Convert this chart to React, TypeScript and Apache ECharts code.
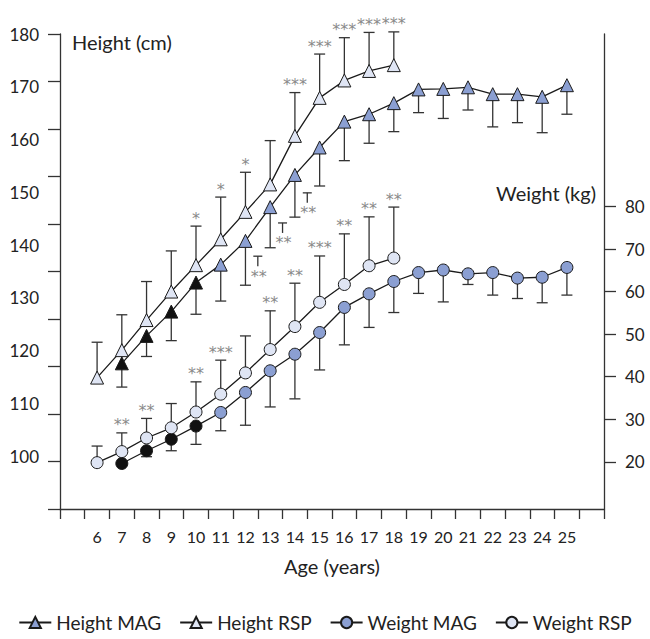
import React, { useEffect, useRef } from "react";
import * as echarts from "echarts";

// ---------- data ----------
const ageLabels = ["6", "7", "8", "9", "10", "11", "12", "13", "14", "15", "16", "17", "18", "19", "20", "21", "22", "23", "24", "25"];
const xCategories = ["", ...ageLabels, ""];

const heightTickLabels = [100, 110, 120, 130, 140, 150, 160, 170, 180];
const weightTickLabels = [20, 30, 40, 50, 60, 70, 80];

const rspAges = [6, 7, 8, 9, 10, 11, 12, 13, 14, 15, 16, 17, 18];
const magAges = [7, 8, 9, 10, 11, 12, 13, 14, 15, 16, 17, 18, 19, 20, 21, 22, 23, 24, 25];
const magJuvenileAges = [7, 8, 9, 10];

const heightRsp = [114.9, 120.1, 125.8, 131.2, 136.2, 141.1, 146.3, 151.5, 160.7, 167.9, 171.2, 173.0, 174.1];
const heightRspUpper = [121.6, 126.8, 133.1, 138.9, 143.6, 149.1, 153.8, 159.8, 168.9, 176.2, 179.3, 180.3, 180.4];
const heightRspStars = ["", "", "", "", "*", "*", "*", "", "***", "***", "***", "***", "***"];

const heightMag = [117.6, 122.8, 127.4, 132.9, 136.3, 140.8, 147.2, 153.3, 158.5, 163.4, 164.8, 166.9, 169.5, 169.6, 169.9, 168.6, 168.6, 168.1, 170.3];
const heightMagLower = [113.1, 118.9, 121.9, 126.9, 129.4, 132.4, 139.5, 145.3, 151.2, 156.0, 159.3, 161.5, 165.1, 164.0, 165.6, 162.4, 163.2, 161.3, 164.8];

const weightRsp = [19.8, 22.4, 25.6, 28.0, 31.7, 35.9, 40.9, 46.4, 51.8, 57.5, 61.7, 66.1, 67.9];
const weightRspUpper = [23.7, 26.8, 30.2, 33.7, 38.8, 43.9, 49.6, 55.5, 62.0, 68.4, 73.6, 77.6, 79.9];
const weightRspStars = ["", "**", "**", "", "**", "***", "", "**", "**", "***", "**", "**", "**"];

const weightMag = [19.6, 22.6, 25.3, 28.4, 31.6, 36.3, 41.4, 45.3, 50.4, 56.3, 59.5, 62.4, 64.5, 65.1, 64.2, 64.5, 63.2, 63.4, 65.7];
const weightMagLower = [19.6, 21.2, 22.6, 24.1, 27.3, 28.6, 32.9, 34.8, 41.6, 47.5, 51.6, 55.1, 59.6, 57.6, 61.7, 59.2, 58.4, 57.4, 59.2];

// significance marks placed between ages (after the given age), on the height scale
const betweenAges = [12, 13, 14];
const betweenHeights = [137.9, 144.2, 149.9];
const betweenStars = ["**", "**", "**"];

// ---------- styling ----------
const FONT = "Lato, 'Open Sans', sans-serif";
const TEXT = "#222";
const AXIS = "#333";
const MAG_FILL = "#8b9fd2";
const RSP_FILL = "#dfe5f4";
const JUV_FILL = "#111";
const STAR_FONT = "16px 'DejaVu Sans'";
const STAR_FILL = "#8a8a8a";

const idx = (age: number) => xCategories.indexOf(String(age));

function errorBars(name: string, ages: number[], values: number[], bounds: number[], yAxisIndex: number) {
  return {
    type: "custom",
    name,
    yAxisIndex,
    z: 1,
    silent: true,
    clip: false,
    encode: { x: 0, y: [1, 2] },
    data: ages.map((a, i) => [idx(a), values[i], bounds[i]]),
    renderItem: (_p: any, api: any) => {
      const p = api.coord([api.value(0), api.value(1)]);
      const q = api.coord([api.value(0), api.value(2)]);
      const st = { stroke: AXIS, lineWidth: 1.3 };
      return {
        type: "group",
        children: [
          { type: "line", shape: { x1: p[0], y1: p[1], x2: q[0], y2: q[1] }, style: st },
          { type: "line", shape: { x1: q[0] - 5.5, y1: q[1], x2: q[0] + 5.5, y2: q[1] }, style: st },
        ],
      };
    },
  };
}

function starMarks(name: string, ages: number[], bounds: number[], stars: string[], yAxisIndex: number) {
  const keep = ages.map((_, i) => i).filter((i) => stars[i]);
  const txt = keep.map((i) => stars[i]);
  return {
    type: "custom",
    name,
    yAxisIndex,
    z: 5,
    silent: true,
    clip: false,
    encode: { x: 0, y: 1 },
    data: keep.map((i) => [idx(ages[i]), bounds[i]]),
    renderItem: (params: any, api: any) => {
      const q = api.coord([api.value(0), api.value(1)]);
      return {
        type: "text",
        x: q[0],
        y: q[1] - 8,
        style: {
          text: txt[params.dataIndex],
          font: STAR_FONT,
          fill: STAR_FILL,
          align: "center",
          verticalAlign: "middle",
        },
      };
    },
  };
}

function lineSeries(name: string, ages: number[], values: number[], yAxisIndex: number, symbol: string, size: number, fill: string, juvenile: boolean) {
  return {
    type: "line",
    name,
    yAxisIndex,
    z: 3,
    symbol,
    symbolSize: size,
    showAllSymbol: true,
    clip: false,
    lineStyle: { color: "#1a1a1a", width: 1.3 },
    itemStyle: { color: fill, borderColor: "#1a1a1a", borderWidth: 1 },
    emphasis: { disabled: true },
    data: ages.map((a, i) => {
      const d: any = { value: [idx(a), values[i]] };
      if (juvenile && magJuvenileAges.includes(a)) d.itemStyle = { color: JUV_FILL };
      return d;
    }),
  };
}

export default function App() {
  const ref = useRef<HTMLDivElement>(null);
  useEffect(() => {
    if (!ref.current) return;
    const chart = echarts.init(ref.current, undefined, { renderer: "svg" });
    const option: any = {
      animation: false,
      textStyle: { fontFamily: FONT },
      grid: { left: 60, right: 46, top: 34, bottom: 130, containLabel: false },
      legend: {
        data: ["Height MAG", "Height RSP", "Weight MAG", "Weight RSP"],
        left: "center",
        top: 613,
        width: 650,
        padding: 0,
        itemWidth: 32,
        itemHeight: 14,
        itemGap: 18,
        textStyle: { fontSize: 19, color: TEXT, fontFamily: FONT },
      },
      xAxis: {
        type: "category",
        data: xCategories,
        boundaryGap: true,
        axisLine: { lineStyle: { color: AXIS, width: 1.3 } },
        axisTick: { show: true, length: 10, alignWithLabel: false, interval: 0, lineStyle: { color: AXIS, width: 1.3 } },
        axisLabel: { interval: 0, margin: 19, fontSize: 16, color: TEXT, fontFamily: FONT },
        name: "Age (years)",
        nameLocation: "middle",
        nameGap: 47,
        nameTextStyle: { fontSize: 20, color: TEXT, fontFamily: FONT },
        splitLine: { show: false },
      },
      yAxis: [
        {
          type: "value",
          position: "left",
          min: 90,
          max: 180,
          interval: 10,
          axisLine: { show: true, lineStyle: { color: AXIS, width: 1.3 } },
          axisTick: { show: false },
          axisLabel: {
            margin: 21,
            fontSize: 17,
            color: TEXT,
            fontFamily: FONT,
            formatter: (v: number) => (heightTickLabels.includes(v) ? String(v) : ""),
          },
          splitLine: { show: false },
          name: "Height (cm)",
          nameLocation: "end",
          nameGap: -8,
          nameTextStyle: { fontSize: 20, color: TEXT, fontFamily: FONT, align: "left", verticalAlign: "middle", padding: [0, 0, 0, 12] },
        },
        {
          type: "value",
          position: "left",
          min: 0,
          max: 10,
          interval: 1,
          axisLine: { show: false },
          axisTick: { show: true, length: 12, lineStyle: { color: AXIS, width: 1.3 } },
          axisLabel: { show: false },
          splitLine: { show: false },
        },
        {
          type: "value",
          position: "right",
          min: 8.9,
          max: 120.6,
          axisLine: { show: true, lineStyle: { color: AXIS, width: 1.3 } },
          axisTick: { show: true, length: 12, customValues: weightTickLabels, lineStyle: { color: AXIS, width: 1.3 } },
          axisLabel: { margin: 21, fontSize: 17, color: TEXT, fontFamily: FONT, customValues: weightTickLabels },
          splitLine: { show: false },
          name: "Weight (kg)",
          nameLocation: "end",
          nameGap: -159,
          nameTextStyle: { fontSize: 20, color: TEXT, fontFamily: FONT, align: "right", verticalAlign: "middle", padding: [0, 8, 0, 0] },
        },
      ],
      series: [
        errorBars("hmErr", magAges, heightMag, heightMagLower, 0),
        errorBars("hrErr", rspAges, heightRsp, heightRspUpper, 0),
        errorBars("wmErr", magAges, weightMag, weightMagLower, 2),
        errorBars("wrErr", rspAges, weightRsp, weightRspUpper, 2),
        lineSeries("Height MAG", magAges, heightMag, 0, "triangle", 13, MAG_FILL, true),
        lineSeries("Height RSP", rspAges, heightRsp, 0, "triangle", 13, RSP_FILL, false),
        lineSeries("Weight MAG", magAges, weightMag, 2, "circle", 12, MAG_FILL, true),
        lineSeries("Weight RSP", rspAges, weightRsp, 2, "circle", 12, RSP_FILL, false),
        starMarks("hrStars", rspAges, heightRspUpper, heightRspStars, 0),
        starMarks("wrStars", rspAges, weightRspUpper, weightRspStars, 2),
        {
          type: "custom",
          name: "betweenMarks",
          yAxisIndex: 0,
          z: 5,
          silent: true,
          clip: false,
          encode: { x: 0, y: 1 },
          data: betweenAges.map((a, i) => [idx(a), betweenHeights[i]]),
          renderItem: (params: any, api: any) => {
            const p = api.coord([api.value(0), api.value(1)]);
            const half = api.size([1, 0])[0] / 2;
            const x = p[0] + half;
            const st = { stroke: AXIS, lineWidth: 1.3 };
            return {
              type: "group",
              children: [
                { type: "line", shape: { x1: x - 4.5, y1: p[1], x2: x + 4.5, y2: p[1] }, style: st },
                { type: "line", shape: { x1: x, y1: p[1], x2: x, y2: p[1] + 10 }, style: st },
                {
                  type: "text",
                  x: x + 1,
                  y: p[1] + 20,
                  style: {
                    text: betweenStars[params.dataIndex],
                    font: STAR_FONT,
                    fill: STAR_FILL,
                    align: "center",
                    verticalAlign: "middle",
                  },
                },
              ],
            };
          },
        },
      ],
    };
    chart.setOption(option);
    return () => chart.dispose();
  }, []);
  return <div ref={ref} style={{ position: "fixed", left: 0, top: 0, width: 650, height: 639, background: "#fff" }} />;
}
